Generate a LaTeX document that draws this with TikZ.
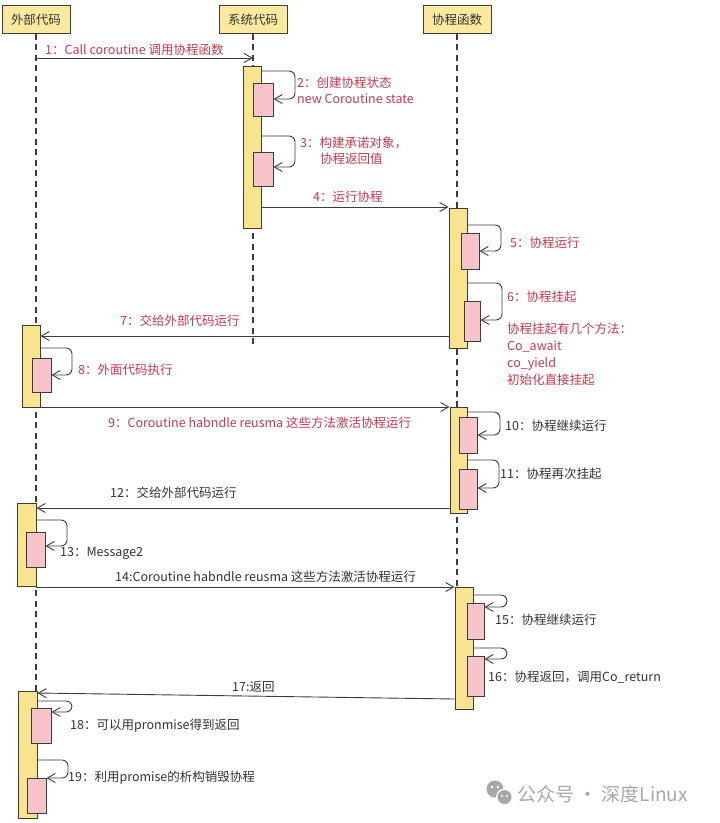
\documentclass[tikz,border=0pt]{standalone}
\usepackage{fontspec}
\newfontfamily\cjk{Noto Sans CJK SC}
\usetikzlibrary{arrows.meta,fit}
\definecolor{hdrfill}{HTML}{FBE9A0}
\definecolor{barfill}{HTML}{F8E38E}
\definecolor{pinkfill}{HTML}{F8C4CA}
\definecolor{edge}{HTML}{3C3C3C}
\definecolor{lblred}{HTML}{C23A4B}
\definecolor{lbldark}{HTML}{333333}
\definecolor{wmgray}{HTML}{A8A8A8}
\newcommand\selfmsg[5]{\draw[msg,rounded corners=6pt] (#1.east |- 0,#2) -- (#3,#2) -- (#3,#4) -- (#5.east |- 0,#4);}
\tikzset{
  hdr/.style={draw=edge, line width=0.9pt, fill=hdrfill, minimum width=68pt, minimum height=28pt, inner sep=0pt, font=\cjk\fontsize{12.5}{15}\selectfont, text=lbldark},
  life/.style={draw=edge, line width=1.3pt, dash pattern=on 6pt off 4.5pt},
  actbar/.style={draw=edge, line width=0.9pt, fill=barfill, inner sep=0pt},
  actpink/.style={draw=edge, line width=0.9pt, fill=pinkfill, inner sep=0pt},
  msg/.style={draw=edge, line width=0.9pt, -{Straight Barb[length=8pt,width=9pt,line width=0.9pt]}},
  rl/.style={text=lblred, font=\cjk\fontsize{12.5}{15}\selectfont, inner sep=1pt, anchor=west, align=left},
  dl/.style={text=lbldark, font=\cjk\fontsize{12.5}{15}\selectfont, inner sep=1pt, anchor=west, align=left},
  wm/.style={text=wmgray, font=\cjk\fontsize{19}{22}\selectfont, inner sep=0pt, anchor=west}
}
\begin{document}
\begin{tikzpicture}[x=1pt,y=-1pt]
\useasboundingbox[fill=white] (0,0) rectangle (720,823);

% headers
\node[hdr] (h1) at (36,19.5) {外部代码};
\node[hdr] (h2) at (253,19.5) {系统代码};
\node[hdr] (h3) at (457,19.5) {协程函数};

% lifelines
\draw[life] (h1.south) -- (h1 |- 0,818);
\draw[life] (h2.south) -- (h2 |- 0,345);
\draw[life] (h3.south) -- (h3 |- 0,709);

% activation bars
\node[actbar, fit={(243,66) (261,228)}] (s1) {};
\node[actbar, fit={(449,208) (467,348)}] (c1) {};
\node[actbar, fit={(22,325) (40,407)}] (l1) {};
\node[actbar, fit={(450,407) (467,513)}] (c2) {};
\node[actbar, fit={(17,503) (36,586)}] (l2) {};
\node[actbar, fit={(455,587) (473,709)}] (c3) {};
\node[actbar, fit={(18,691) (37,818)}] (l3) {};

% nested activations
\node[actpink, fit={(253,83) (273,116)}] (p2) {};
\node[actpink, fit={(253,152) (273,186)}] (p3) {};
\node[actpink, fit={(461,233) (479,269)}] (p5) {};
\node[actpink, fit={(464,301) (480,341)}] (p6) {};
\node[actpink, fit={(32,358) (51,392)}] (p8) {};
\node[actpink, fit={(459,417) (477,453)}] (p10) {};
\node[actpink, fit={(459,469) (477,509)}] (p11) {};
\node[actpink, fit={(26,532) (45,567)}] (p13) {};
\node[actpink, fit={(467,603) (484,639)}] (p15) {};
\node[actpink, fit={(467,656) (484,696)}] (p16) {};
\node[actpink, fit={(31,708) (51,743)}] (p18) {};
\node[actpink, fit={(27,778) (46,813)}] (p19) {};

% messages
\draw[msg] (h1 |- 0,58) -- (h2 |- 0,58);
\draw[msg] (s1.east |- 0,207) -- (c1.west |- 0,207);
\draw[msg] (c1.west |- 0,336) -- (l1.east |- 0,336);
\draw[msg] (l1.east |- 0,407) -- (c2.west |- 0,407);
\draw[msg] (c2.west |- 0,508) -- (l2.east |- 0,508);
\draw[msg] (l2.east |- 0,587) -- (c3.west |- 0,587);
\draw[msg] (c3.west |- 0,699) -- (l3.east |- 0,693);

% self messages
\selfmsg{s1}{71}{295}{99}{p2}
\selfmsg{s1}{136}{295}{167}{p3}
\selfmsg{c1}{225}{501}{251}{p5}
\selfmsg{c1}{283}{502}{320}{p6}
\selfmsg{l1}{348}{72}{375}{p8}
\selfmsg{c2}{412}{500}{435}{p10}
\selfmsg{c2}{460}{499}{488}{p11}
\selfmsg{l2}{520}{67}{546}{p13}
\selfmsg{c3}{595}{507}{607}{p15}
\selfmsg{c3}{648}{507}{659}{p16}
\selfmsg{l3}{701}{72}{712}{p18}
\selfmsg{l3}{760}{68}{778}{p19}

% labels
\node[rl] (t1) at (44,50) {1：Call coroutine 调用协程函数};
\node[rl, font=\cjk\fontsize{12.5}{15.5}\selectfont] (t2) at (296,90.5) {2：创建协程状态\\new Coroutine state};
\node[rl] (t3a) at (299,143) {3：构建承诺对象，};
\node[rl] (t3b) at (319,159) {协程返回值};
\node[rl] (t4) at (312,197) {4：运行协程};
\node[rl] (t5) at (509,243) {5：协程运行};
\node[rl] (t6) at (506,297) {6：协程挂起};
\node[rl, font=\cjk\fontsize{12.5}{17}\selectfont] (t6n) at (506,354.5) {协程挂起有几个方法：\\Co\_await\\co\_yield\\初始化直接挂起};
\node[rl] (t7) at (119,321) {7：交给外部代码运行};
\node[rl] (t8) at (77,370) {8：外面代码执行};
\node[rl] (t9) at (107,423) {9：Coroutine habndle reusma 这些方法激活协程运行};
\node[dl] (t10) at (504,426) {10：协程继续运行};
\node[dl] (t11) at (499,474) {11：协程再次挂起};
\node[dl] (t12) at (109,493) {12：交给外部代码运行};
\node[dl] (t13) at (59,553) {13：Message2};
\node[dl] (t14) at (114,577) {14:Coroutine habndle reusma 这些方法激活协程运行};
\node[dl] (t15) at (494,620) {15：协程继续运行};
\node[dl] (t16) at (487,677) {16：协程返回，调用Co\_return};
\node[dl] (t17) at (231,687) {17:返回};
\node[dl] (t18) at (69,726) {18：可以用pronmise得到返回};
\node[dl] (t19) at (67,778) {19：利用promise的析构销毁协程};

% watermark
\fill[wmgray] (495,789) circle (8.5);
\fill[white] (504.5,797) circle (8.5);
\fill[wmgray] (504.5,797) circle (7);
\fill[white] (492,787) circle (1.3) (498,787) circle (1.3) (502,796) circle (1.1) (507,796) circle (1.1);
\node[wm] (wm) at (517,794) {公众号 · 深度Linux};
\end{tikzpicture}
\end{document}
